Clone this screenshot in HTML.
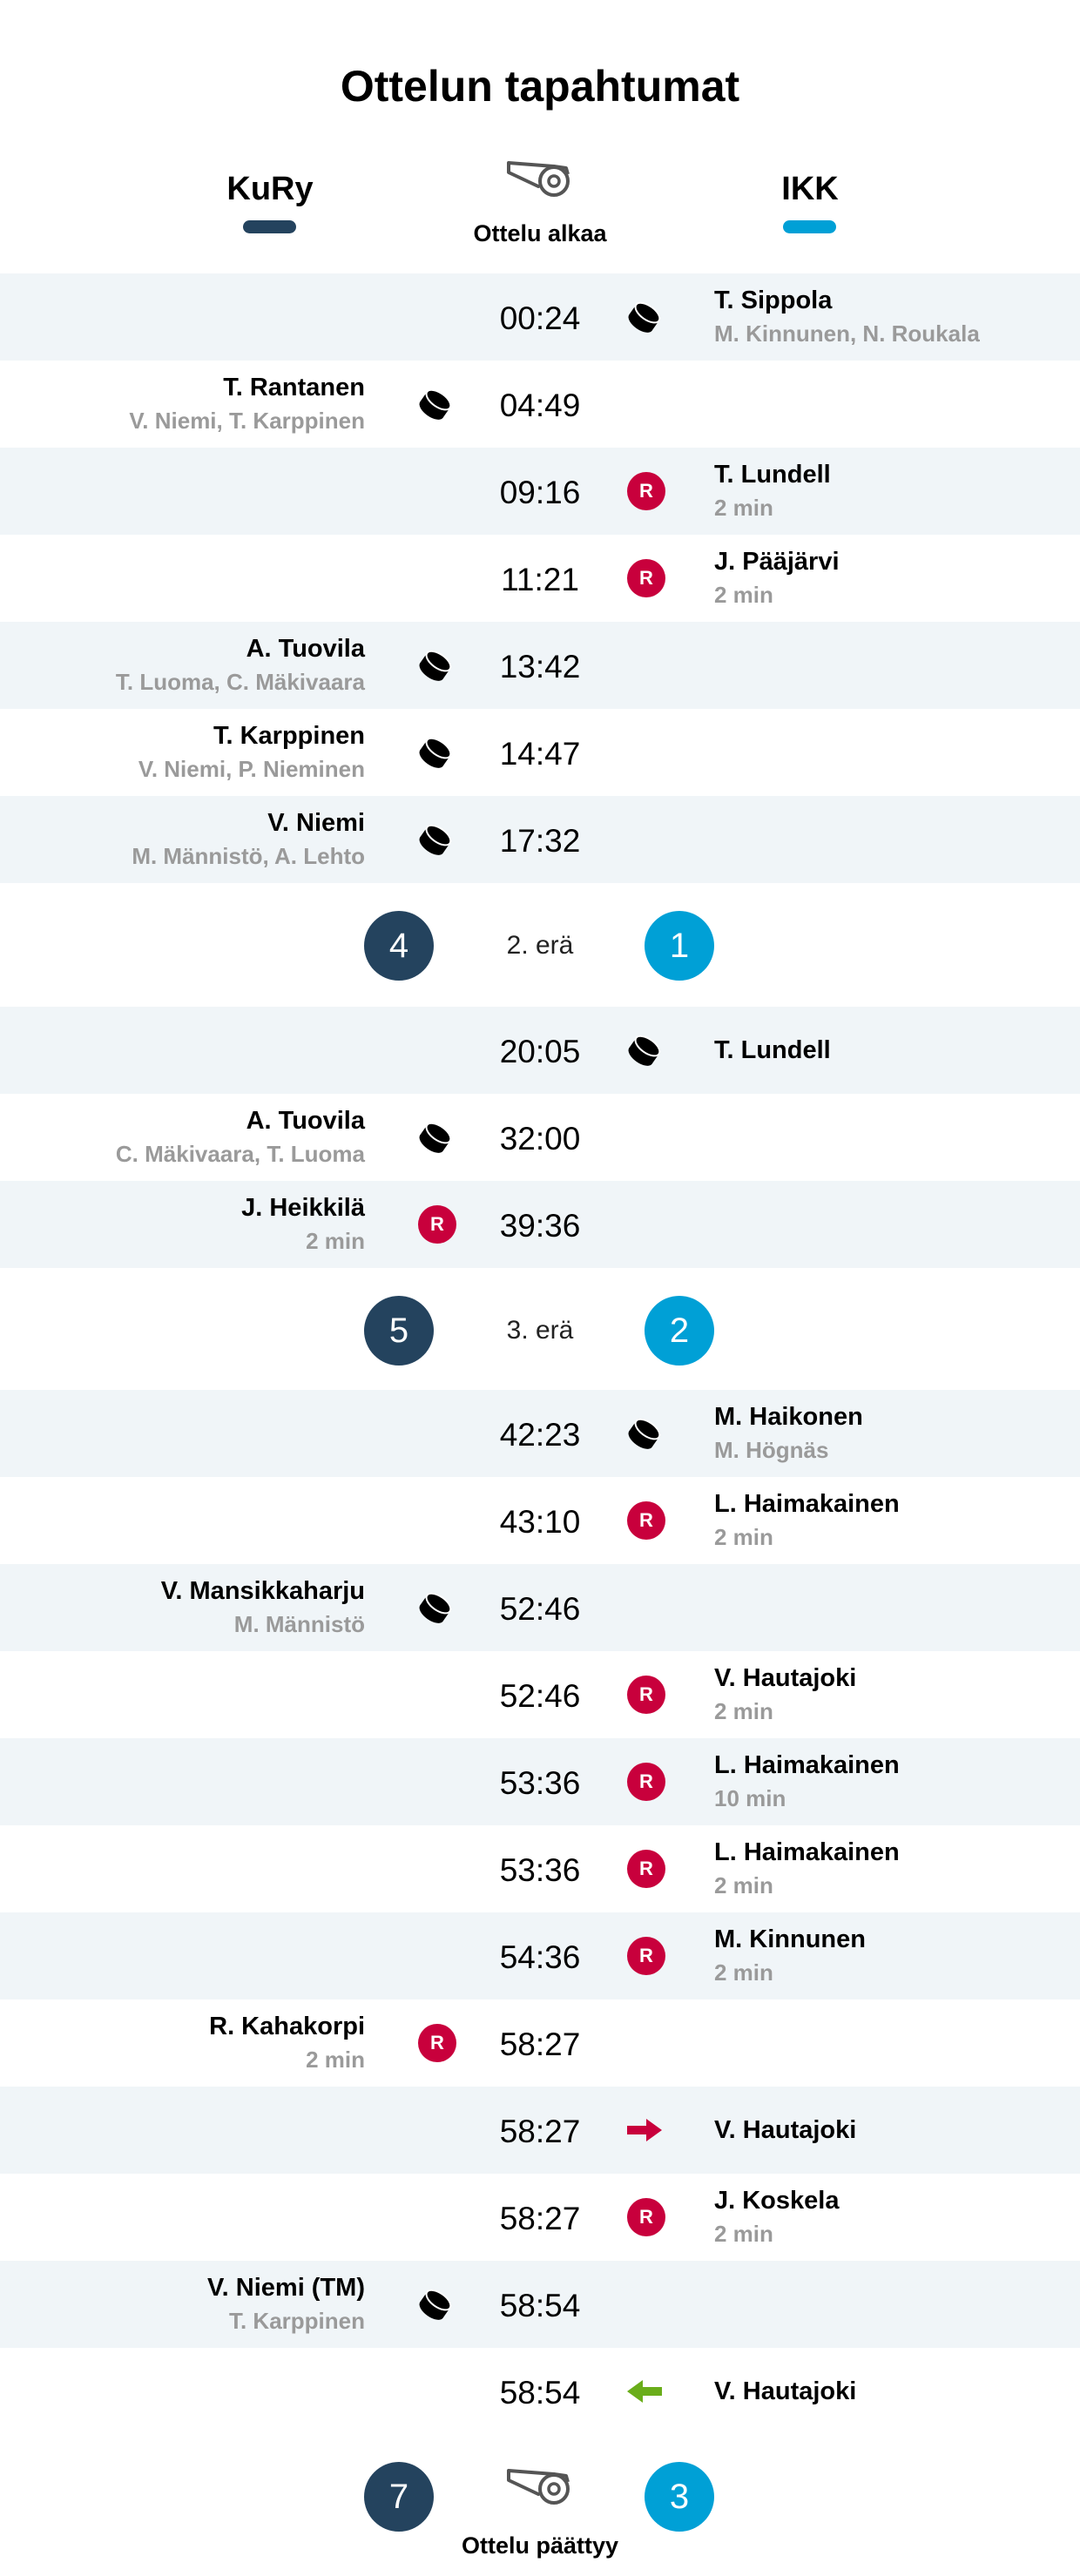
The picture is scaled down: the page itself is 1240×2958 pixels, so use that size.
<!DOCTYPE html>
<html><head><meta charset="utf-8"><style>
*{margin:0;padding:0;box-sizing:border-box}
body{width:1240px;height:2958px;background:#fff;font-family:"Liberation Sans",sans-serif;color:#000;position:relative;overflow:hidden}
.a{position:absolute}
.title{top:70px;left:0;width:1240px;text-align:center;font-size:50px;font-weight:bold}
.team{font-size:38px;font-weight:bold;width:200px;text-align:center;top:196px}
.bar{width:61px;height:15px;border-radius:8px;top:253px}
.row{position:absolute;left:0;width:1240px;height:100px}
.g{background:#f0f5f8}
.t{position:absolute;left:540px;width:160px;text-align:center;font-size:37px;top:31px}
.ln{position:absolute;right:821px;text-align:right;white-space:nowrap}
.rn{position:absolute;left:820px;white-space:nowrap}
.n{font-size:29px;font-weight:bold;line-height:38px}
.s{font-size:26px;color:#9a9a9a;line-height:38px;font-weight:bold}
.two{top:12px}
.one{top:31px}
.ic{position:absolute;top:30px;width:40px;height:40px}
.L{left:480px}.R{left:720px}
.pen{width:44px;height:44px;border-radius:50%;background:#c8003c;color:#fff;font-weight:bold;font-size:22px;text-align:center;line-height:44px;top:28px}
.sep{position:absolute;left:0;width:1240px;height:140px}
.c{position:absolute;width:80px;height:80px;border-radius:50%;color:#fff;font-size:40px;text-align:center;line-height:80px;top:32px}
.c1{left:418px;background:#24435e}.c2{left:740px;background:#00a0d6}
.pl{position:absolute;left:520px;width:200px;text-align:center;top:55px;font-size:30px;color:#222}
</style></head><body>
<div class="a title">Ottelun tapahtumat</div>
<div class="a team" style="left:210px">KuRy</div>
<div class="a bar" style="left:279px;background:#24435e"></div>
<div class="a team" style="left:830px">IKK</div>
<div class="a bar" style="left:899px;background:#00a0d6"></div>
<svg width="0" height="0" style="position:absolute"><defs>
<g id="wh"><path d="M4 3 L56 7 M4 3 L4 14 L38 30" fill="none" stroke="#555" stroke-width="4" stroke-linejoin="round" stroke-linecap="round"/><circle cx="56" cy="24" r="16" fill="#fff" stroke="#555" stroke-width="4"/><path d="M56 7 L70 9 L72 16" fill="none" stroke="#555" stroke-width="4" stroke-linejoin="round"/><circle cx="56" cy="24" r="6" fill="none" stroke="#555" stroke-width="3.5"/></g>
<g id="puck"><g transform="rotate(35 20 20)"><rect x="4" y="14" width="32" height="14" fill="#000"/><ellipse cx="20" cy="28" rx="16" ry="8" fill="#000"/><ellipse cx="20" cy="14" rx="16" ry="8" fill="#000" stroke="#fff" stroke-width="2"/></g></g></defs></svg>
<svg class="a" style="left:580px;top:184px" width="80" height="44" viewBox="0 0 80 44"><use href="#wh"/></svg>
<div class="a" style="left:520px;width:200px;text-align:center;top:253px;font-size:27px;font-weight:bold">Ottelu alkaa</div>

<div class="row g" style="top:314px"><div class="t">00:24</div><svg class="ic R"><use href="#puck"/></svg><div class="rn two"><div class="n">T. Sippola</div><div class="s">M. Kinnunen, N. Roukala</div></div></div>
<div class="row" style="top:414px"><div class="t">04:49</div><svg class="ic L"><use href="#puck"/></svg><div class="ln two"><div class="n">T. Rantanen</div><div class="s">V. Niemi, T. Karppinen</div></div></div>
<div class="row g" style="top:514px"><div class="t">09:16</div><div class="ic R pen">R</div><div class="rn two"><div class="n">T. Lundell</div><div class="s">2 min</div></div></div>
<div class="row" style="top:614px"><div class="t">11:21</div><div class="ic R pen">R</div><div class="rn two"><div class="n">J. Pääjärvi</div><div class="s">2 min</div></div></div>
<div class="row g" style="top:714px"><div class="t">13:42</div><svg class="ic L"><use href="#puck"/></svg><div class="ln two"><div class="n">A. Tuovila</div><div class="s">T. Luoma, C. Mäkivaara</div></div></div>
<div class="row" style="top:814px"><div class="t">14:47</div><svg class="ic L"><use href="#puck"/></svg><div class="ln two"><div class="n">T. Karppinen</div><div class="s">V. Niemi, P. Nieminen</div></div></div>
<div class="row g" style="top:914px"><div class="t">17:32</div><svg class="ic L"><use href="#puck"/></svg><div class="ln two"><div class="n">V. Niemi</div><div class="s">M. Männistö, A. Lehto</div></div></div>

<div class="sep" style="top:1014px"><div class="c c1">4</div><div class="pl">2. erä</div><div class="c c2">1</div></div>

<div class="row g" style="top:1156px"><div class="t">20:05</div><svg class="ic R"><use href="#puck"/></svg><div class="rn one"><div class="n">T. Lundell</div></div></div>
<div class="row" style="top:1256px"><div class="t">32:00</div><svg class="ic L"><use href="#puck"/></svg><div class="ln two"><div class="n">A. Tuovila</div><div class="s">C. Mäkivaara, T. Luoma</div></div></div>
<div class="row g" style="top:1356px"><div class="t">39:36</div><div class="ic L pen">R</div><div class="ln two"><div class="n">J. Heikkilä</div><div class="s">2 min</div></div></div>

<div class="sep" style="top:1456px"><div class="c c1">5</div><div class="pl">3. erä</div><div class="c c2">2</div></div>

<div class="row g" style="top:1596px"><div class="t">42:23</div><svg class="ic R"><use href="#puck"/></svg><div class="rn two"><div class="n">M. Haikonen</div><div class="s">M. Högnäs</div></div></div>
<div class="row" style="top:1696px"><div class="t">43:10</div><div class="ic R pen">R</div><div class="rn two"><div class="n">L. Haimakainen</div><div class="s">2 min</div></div></div>
<div class="row g" style="top:1796px"><div class="t">52:46</div><svg class="ic L"><use href="#puck"/></svg><div class="ln two"><div class="n">V. Mansikkaharju</div><div class="s">M. Männistö</div></div></div>
<div class="row" style="top:1896px"><div class="t">52:46</div><div class="ic R pen">R</div><div class="rn two"><div class="n">V. Hautajoki</div><div class="s">2 min</div></div></div>
<div class="row g" style="top:1996px"><div class="t">53:36</div><div class="ic R pen">R</div><div class="rn two"><div class="n">L. Haimakainen</div><div class="s">10 min</div></div></div>
<div class="row" style="top:2096px"><div class="t">53:36</div><div class="ic R pen">R</div><div class="rn two"><div class="n">L. Haimakainen</div><div class="s">2 min</div></div></div>
<div class="row g" style="top:2196px"><div class="t">54:36</div><div class="ic R pen">R</div><div class="rn two"><div class="n">M. Kinnunen</div><div class="s">2 min</div></div></div>
<div class="row" style="top:2296px"><div class="t">58:27</div><div class="ic L pen">R</div><div class="ln two"><div class="n">R. Kahakorpi</div><div class="s">2 min</div></div></div>
<div class="row g" style="top:2396px"><div class="t">58:27</div><svg class="ic R" viewBox="0 0 40 40"><path d="M0 15 H22 V7 L40 20 L22 33 V25 H0 Z" fill="#c8003c"/></svg><div class="rn one"><div class="n">V. Hautajoki</div></div></div>
<div class="row" style="top:2496px"><div class="t">58:27</div><div class="ic R pen">R</div><div class="rn two"><div class="n">J. Koskela</div><div class="s">2 min</div></div></div>
<div class="row g" style="top:2596px"><div class="t">58:54</div><svg class="ic L"><use href="#puck"/></svg><div class="ln two"><div class="n">V. Niemi (TM)</div><div class="s">T. Karppinen</div></div></div>
<div class="row" style="top:2696px"><div class="t">58:54</div><svg class="ic R" viewBox="0 0 40 40"><path d="M40 15 H18 V7 L0 20 L18 33 V25 H40 Z" fill="#6aad1a"/></svg><div class="rn one"><div class="n">V. Hautajoki</div></div></div>

<div class="c c1" style="top:2827px">7</div>
<div class="c c2" style="top:2827px">3</div>
<svg class="a" style="left:580px;top:2834px" width="80" height="44" viewBox="0 0 80 44"><use href="#wh"/></svg>
<div class="a" style="left:500px;width:240px;text-align:center;top:2908px;font-size:27px;font-weight:bold">Ottelu päättyy</div>
</body></html>
